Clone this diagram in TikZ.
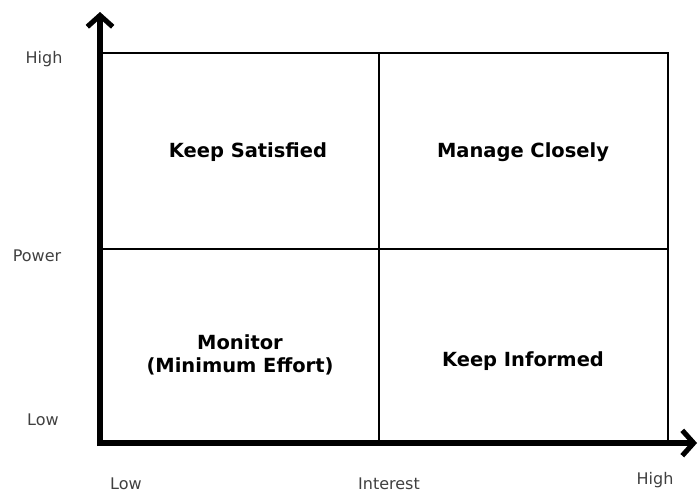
\documentclass[tikz,border=0pt]{standalone}
\usepackage{fontspec}
\setmainfont{DejaVu Sans}
\usetikzlibrary{arrows.meta}

\definecolor{labelgray}{HTML}{404040}

\tikzset{
  axislabel/.style={text=labelgray, font=\fontsize{12}{14}\selectfont},
  quadtext/.style={font=\bfseries\fontsize{14.6}{17}\selectfont, align=center},
  axisline/.style={line width=3.8pt, -{Straight Barb[length=8.5pt,width=19pt]}}
}

\begin{document}
\begin{tikzpicture}[x=0.75pt, y=-0.75pt]
  \useasboundingbox (0,0) rectangle (698,494);
  % quadrant grid
  \draw[line width=0.9pt] (100,53) rectangle (668,443);
  \draw[line width=0.9pt] (379,53) -- (379,443);
  \draw[line width=0.9pt] (100,249) -- (668,249);
  % axes
  \coordinate (origin) at (100,443);
  \coordinate (ytop) at (100,12);
  \coordinate (xend) at (697,443);
  \coordinate (ycorner) at (100,446);
  \coordinate (xcorner) at (97,443);
  \draw[axisline] (ycorner) -- (ytop);
  \draw[axisline] (xcorner) -- (xend);
  % quadrant labels
  \node[quadtext] (satisfied) at (248,152) {Keep Satisfied};
  \node[quadtext] (closely) at (523,152) {Manage Closely};
  \node[quadtext] (monitor) at (240,355) {Monitor\\(Minimum Effort)};
  \node[quadtext] (informed) at (523,361) {Keep Informed};
  % axis labels
  \node[axislabel] (powerhigh) at (44,59) {High};
  \node[axislabel] (power) at (37,256) {Power};
  \node[axislabel] (powerlow) at (43,420) {Low};
  \node[axislabel] (interestlow) at (126,484) {Low};
  \node[axislabel] (interest) at (389,484) {Interest};
  \node[axislabel] (interesthigh) at (655,480) {High};
\end{tikzpicture}
\end{document}
